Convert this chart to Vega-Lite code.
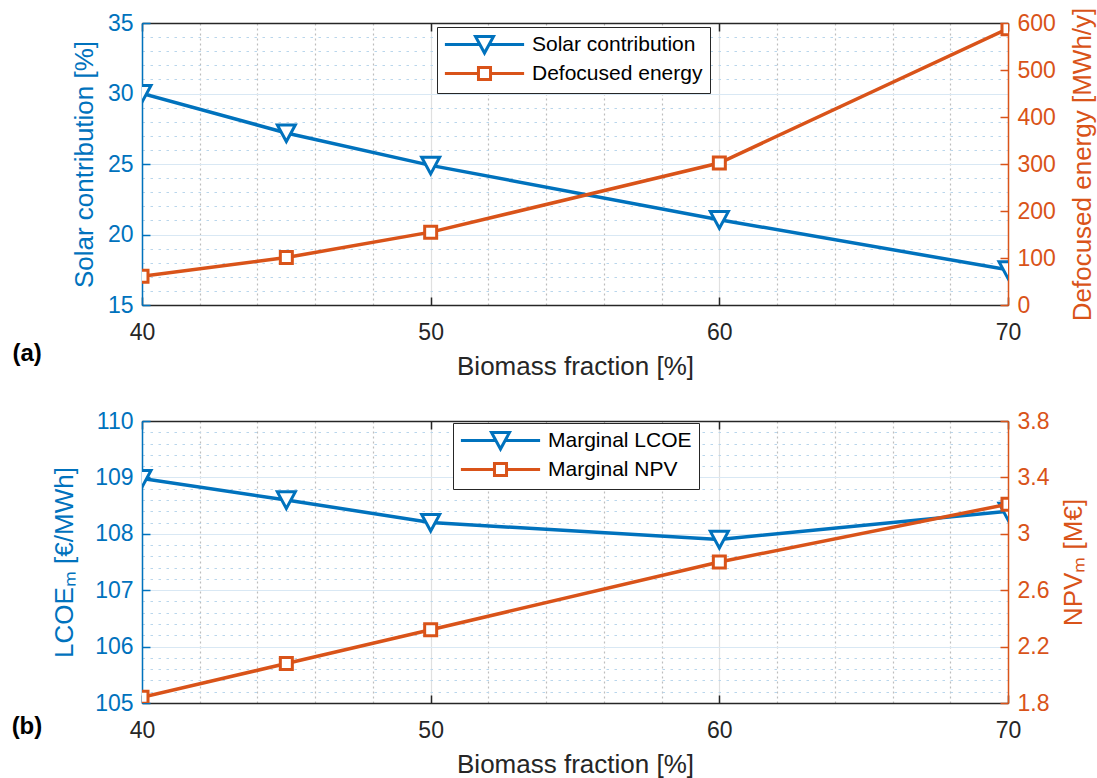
{
  "$schema": "https://vega.github.io/schema/vega-lite/v6.json",
  "background": "white",
  "padding": {"left": 11, "top": 7, "right": 2, "bottom": 2},
  "config": {
    "font": "Liberation Sans",
    "view": {"stroke": null},
    "axis": {
      "labelFont": "Liberation Sans", "titleFont": "Liberation Sans",
      "labelFontSize": 23, "titleFontSize": 26, "titleFontWeight": "normal",
      "labelFlush": false, "labelOverlap": false, "labelBound": false,
      "domainWidth": 1.5, "tickWidth": 1.5, "tickSize": -8
    },
    "legend": {
      "labelFont": "Liberation Sans", "labelFontSize": 21, "labelColor": "black", "labelLimit": 400,
      "strokeColor": "#262626", "fillColor": "white", "padding": 7, "rowPadding": 1,
      "symbolSize": 324, "symbolStrokeWidth": 3, "symbolFillColor": "white",
      "symbolOffset": 30, "labelOffset": 37, "cornerRadius": 0
    },
    "title": {"font": "Liberation Sans"}
  },
  "datasets": {
    "a": [
      {"x": 40, "series": "Solar contribution", "value": 30},
      {"x": 45, "series": "Solar contribution", "value": 27.2},
      {"x": 50, "series": "Solar contribution", "value": 24.9},
      {"x": 60, "series": "Solar contribution", "value": 21.05},
      {"x": 70, "series": "Solar contribution", "value": 17.5},
      {"x": 40, "series": "Defocused energy", "value": 61},
      {"x": 45, "series": "Defocused energy", "value": 101},
      {"x": 50, "series": "Defocused energy", "value": 155},
      {"x": 60, "series": "Defocused energy", "value": 302},
      {"x": 70, "series": "Defocused energy", "value": 588}
    ],
    "b": [
      {"x": 40, "series": "Marginal LCOE", "value": 108.98},
      {"x": 45, "series": "Marginal LCOE", "value": 108.6},
      {"x": 50, "series": "Marginal LCOE", "value": 108.2},
      {"x": 60, "series": "Marginal LCOE", "value": 107.9},
      {"x": 70, "series": "Marginal LCOE", "value": 108.4},
      {"x": 40, "series": "Marginal NPV", "value": 1.84},
      {"x": 45, "series": "Marginal NPV", "value": 2.08},
      {"x": 50, "series": "Marginal NPV", "value": 2.32},
      {"x": 60, "series": "Marginal NPV", "value": 2.8},
      {"x": 70, "series": "Marginal NPV", "value": 3.21}
    ]
  },
  "spacing": 31,
  "resolve": {"scale": {"color": "independent"}},
  "vconcat": [
    {
      "width": 866, "height": 282,
      "data": {"name": "a"},
      "title": {"text": "(a)", "orient": "bottom", "anchor": "start", "frame": "bounds", "fontSize": 24, "fontWeight": "bold", "color": "black", "offset": 0, "dx": -59, "dy": -37},
      "resolve": {"scale": {"y": "independent"}},
      "layer": [
        {
          "transform": [{"filter": "datum.series === 'Solar contribution'"}],
          "encoding": {
            "x": {"field": "x", "type": "quantitative", "axis": null, "scale": {"domain": [40, 70], "nice": false, "zero": false}},
            "y": {
              "field": "value", "type": "quantitative",
              "scale": {"domain": [15, 35], "nice": false, "zero": false},
              "axis": {
                "orient": "left", "title": "Solar contribution [%]",
                "values": [15,16,17,18,19,20,21,22,23,24,25,26,27,28,29,30,31,32,33,34,35],
                "labelExpr": "datum.value % 5 === 0 ? datum.label : ''",
                "tickOpacity": {"condition": {"test": "datum.value % 5 === 0", "value": 1}, "value": 0},
                "grid": true,
                "gridColor": {"condition": {"test": "datum.value % 5 === 0", "value": "#d9e8f4"}, "value": "#b9d6ec"},
                "gridDash": {"condition": {"test": "datum.value % 5 === 0", "value": []}, "value": [2.5, 5.5]},
                "gridWidth": 1.2,
                "domainColor": "#0072BD", "tickColor": "#0072BD", "labelColor": "#0072BD", "titleColor": "#0072BD",
                "labelPadding": 17, "titlePadding": 10
              }
            }
          },
          "layer": [
            {
              "mark": {"type": "line", "strokeWidth": 3.5, "clip": true},
              "encoding": {
                "x": {
                  "field": "x", "type": "quantitative", "scale": {"domain": [40, 70], "nice": false, "zero": false},
                  "axis": {
                    "orient": "bottom", "title": "Biomass fraction [%]",
                    "values": [40,42,44,46,48,50,52,54,56,58,60,62,64,66,68,70],
                    "labelExpr": "datum.value % 10 === 0 ? datum.label : ''",
                    "tickOpacity": {"condition": {"test": "datum.value % 10 === 0", "value": 1}, "value": 0},
                    "grid": true,
                    "gridColor": {"condition": {"test": "datum.value % 10 === 0", "value": "#e0e0e0"}, "value": "#bdbdbd"},
                    "gridDash": {"condition": {"test": "datum.value % 10 === 0", "value": []}, "value": [2, 3]},
                    "gridWidth": 1.2,
                    "domainColor": "#262626", "tickColor": "#262626", "labelColor": "#262626", "titleColor": "#262626",
                    "labelPadding": 24, "titlePadding": 9
                  }
                },
                "color": {
                  "field": "series", "type": "nominal",
                  "scale": {"domain": ["Solar contribution", "Defocused energy"], "range": ["#0072BD", "#D95319"]},
                  "legend": {
                    "orient": "none", "legendX": 295, "legendY": 4, "title": null, "direction": "vertical",
                    "encode": {"symbols": {"update": {
                      "shape": {"signal": "datum.value === 'Solar contribution' ? 'M-4.4,0H-0.5M0.5,0H4.4M-1,-0.9L1,-0.9L0,0.95Z' : 'M-4.4,0H-0.67M0.67,0H4.4M-0.67,-0.67H0.67V0.67H-0.67Z'"},
                      "fill": {"value": "white"},
                      "strokeWidth": {"value": 3}
                    }}}
                  }
                }
              }
            },
            {
              "mark": {"type": "point", "shape": "M-1,-0.9L1,-0.9L0,0.95Z", "size": 324, "filled": false, "fill": "white", "stroke": "#0072BD", "strokeWidth": 3, "opacity": 1, "clip": true},
              "encoding": {
                "x": {
                  "field": "x", "type": "quantitative", "scale": {"domain": [40, 70], "nice": false, "zero": false},
                  "axis": {"orient": "top", "title": null, "values": [40, 50, 60, 70], "labels": false, "grid": false, "domainColor": "#262626", "tickColor": "#262626"}
                }
              }
            }
          ]
        },
        {
          "transform": [{"filter": "datum.series === 'Defocused energy'"}],
          "encoding": {
            "x": {"field": "x", "type": "quantitative", "axis": null, "scale": {"domain": [40, 70], "nice": false, "zero": false}},
            "y": {
              "field": "value", "type": "quantitative",
              "scale": {"domain": [0, 600], "nice": false, "zero": false},
              "axis": {
                "orient": "right", "title": "Defocused energy [MWh/y]", "titleAngle": 270, "titleBaseline": "top",
                "values": [0, 100, 200, 300, 400, 500, 600], "grid": false,
                "domainColor": "#D95319", "tickColor": "#D95319", "labelColor": "#D95319", "titleColor": "#D95319",
                "labelPadding": 17, "titlePadding": 14
              }
            }
          },
          "layer": [
            {
              "mark": {"type": "line", "strokeWidth": 3.5, "clip": true},
              "encoding": {
                "color": {"field": "series", "type": "nominal", "scale": {"domain": ["Solar contribution", "Defocused energy"], "range": ["#0072BD", "#D95319"]}, "legend": null}
              }
            },
            {
              "mark": {"type": "point", "shape": "square", "size": 144, "filled": false, "fill": "white", "stroke": "#D95319", "strokeWidth": 3, "opacity": 1, "clip": true}
            }
          ]
        }
      ]
    },
    {
      "width": 866, "height": 282,
      "data": {"name": "b"},
      "title": {"text": "(b)", "orient": "bottom", "anchor": "start", "frame": "bounds", "fontSize": 24, "fontWeight": "bold", "color": "black", "offset": 0, "dx": -40, "dy": -62},
      "resolve": {"scale": {"y": "independent"}},
      "layer": [
        {
          "transform": [{"filter": "datum.series === 'Marginal LCOE'"}],
          "encoding": {
            "x": {"field": "x", "type": "quantitative", "axis": null, "scale": {"domain": [40, 70], "nice": false, "zero": false}},
            "y": {
              "field": "value", "type": "quantitative",
              "scale": {"domain": [105, 110], "nice": false, "zero": false},
              "axis": {
                "orient": "left", "title": "LCOEₘ [€/MWh]",
                "values": [105,105.2,105.4,105.6,105.8,106,106.2,106.4,106.6,106.8,107,107.2,107.4,107.6,107.8,108,108.2,108.4,108.6,108.8,109,109.2,109.4,109.6,109.8,110],
                "labelExpr": "abs(datum.value - round(datum.value)) < 0.001 ? format(datum.value, 'd') : ''",
                "tickOpacity": {"condition": {"test": "abs(datum.value - round(datum.value)) < 0.001", "value": 1}, "value": 0},
                "grid": true,
                "gridColor": {"condition": {"test": "abs(datum.value - round(datum.value)) < 0.001", "value": "#d9e8f4"}, "value": "#b9d6ec"},
                "gridDash": {"condition": {"test": "abs(datum.value - round(datum.value)) < 0.001", "value": []}, "value": [2.5, 5.5]},
                "gridWidth": 1.2,
                "domainColor": "#0072BD", "tickColor": "#0072BD", "labelColor": "#0072BD", "titleColor": "#0072BD",
                "labelPadding": 17, "titlePadding": 17
              }
            }
          },
          "layer": [
            {
              "mark": {"type": "line", "strokeWidth": 3.5, "clip": true},
              "encoding": {
                "x": {
                  "field": "x", "type": "quantitative", "scale": {"domain": [40, 70], "nice": false, "zero": false},
                  "axis": {
                    "orient": "bottom", "title": "Biomass fraction [%]",
                    "values": [40,42,44,46,48,50,52,54,56,58,60,62,64,66,68,70],
                    "labelExpr": "datum.value % 10 === 0 ? datum.label : ''",
                    "tickOpacity": {"condition": {"test": "datum.value % 10 === 0", "value": 1}, "value": 0},
                    "grid": true,
                    "gridColor": {"condition": {"test": "datum.value % 10 === 0", "value": "#e0e0e0"}, "value": "#bdbdbd"},
                    "gridDash": {"condition": {"test": "datum.value % 10 === 0", "value": []}, "value": [2, 3]},
                    "gridWidth": 1.2,
                    "domainColor": "#262626", "tickColor": "#262626", "labelColor": "#262626", "titleColor": "#262626",
                    "labelPadding": 24, "titlePadding": 9
                  }
                },
                "color": {
                  "field": "series", "type": "nominal",
                  "scale": {"domain": ["Marginal LCOE", "Marginal NPV"], "range": ["#0072BD", "#D95319"]},
                  "legend": {
                    "orient": "none", "legendX": 311, "legendY": 2, "title": null, "direction": "vertical",
                    "encode": {"symbols": {"update": {
                      "shape": {"signal": "datum.value === 'Marginal LCOE' ? 'M-4.4,0H-0.5M0.5,0H4.4M-1,-0.9L1,-0.9L0,0.95Z' : 'M-4.4,0H-0.67M0.67,0H4.4M-0.67,-0.67H0.67V0.67H-0.67Z'"},
                      "fill": {"value": "white"},
                      "strokeWidth": {"value": 3}
                    }}}
                  }
                }
              }
            },
            {
              "mark": {"type": "point", "shape": "M-1,-0.9L1,-0.9L0,0.95Z", "size": 324, "filled": false, "fill": "white", "stroke": "#0072BD", "strokeWidth": 3, "opacity": 1, "clip": true},
              "encoding": {
                "x": {
                  "field": "x", "type": "quantitative", "scale": {"domain": [40, 70], "nice": false, "zero": false},
                  "axis": {"orient": "top", "title": null, "values": [40, 50, 60, 70], "labels": false, "grid": false, "domainColor": "#262626", "tickColor": "#262626"}
                }
              }
            }
          ]
        },
        {
          "transform": [{"filter": "datum.series === 'Marginal NPV'"}],
          "encoding": {
            "x": {"field": "x", "type": "quantitative", "axis": null, "scale": {"domain": [40, 70], "nice": false, "zero": false}},
            "y": {
              "field": "value", "type": "quantitative",
              "scale": {"domain": [1.8, 3.8], "nice": false, "zero": false},
              "axis": {
                "orient": "right", "title": "NPVₘ [M€]", "titleAngle": 270, "titleBaseline": "top",
                "values": [1.8, 2.2, 2.6, 3, 3.4, 3.8], "grid": false,
                "labelExpr": "format(datum.value, '.1~f')",
                "domainColor": "#D95319", "tickColor": "#D95319", "labelColor": "#D95319", "titleColor": "#D95319",
                "labelPadding": 17, "titlePadding": 12
              }
            }
          },
          "layer": [
            {
              "mark": {"type": "line", "strokeWidth": 3.5, "clip": true},
              "encoding": {
                "color": {"field": "series", "type": "nominal", "scale": {"domain": ["Marginal LCOE", "Marginal NPV"], "range": ["#0072BD", "#D95319"]}, "legend": null}
              }
            },
            {
              "mark": {"type": "point", "shape": "square", "size": 144, "filled": false, "fill": "white", "stroke": "#D95319", "strokeWidth": 3, "opacity": 1, "clip": true}
            }
          ]
        }
      ]
    }
  ]
}
